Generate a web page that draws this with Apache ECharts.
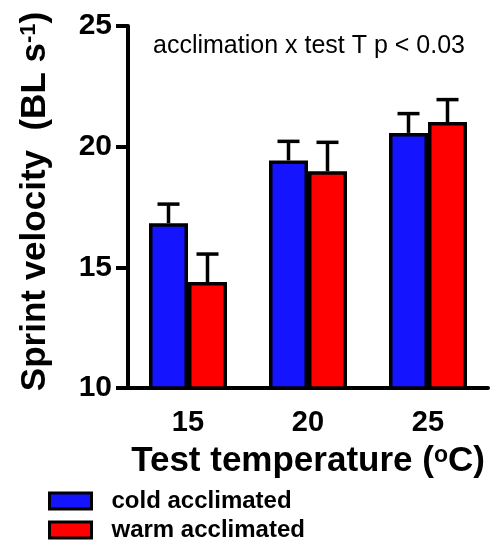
<!DOCTYPE html>
<html>
<head>
<meta charset="utf-8">
<script src="https://cdn.jsdelivr.net/npm/echarts@6/dist/echarts.min.js"></script>
<style>
  html, body { margin: 0; padding: 0; background: #fff; }
  #main { width: 490px; height: 548px; }
</style>
</head>
<body>
<div id="main"></div>
<script>
var chartDom = document.getElementById('main');
var myChart = echarts.init(chartDom);
var option;

// test temperatures
let categories = ['15', '20', '25'];
// mean sprint velocity (BL/s) and upper error (SEM)
let coldMean = [16.83, 19.43, 20.57];
let coldErr = [0.79, 0.79, 0.80];
let warmMean = [14.39, 18.98, 21.02];
let warmErr = [1.16, 1.20, 0.93];
let yTicks = [10, 15, 20, 25];

let font = 'Liberation Sans, Arial, sans-serif';
let barW = 39;

function errData(means, errs) {
  return means.map(function (m, i) { return [i, m, errs[i]]; });
}

function errRender(offset) {
  return function (params, api) {
    let i = api.value(0);
    let m = api.value(1);
    let e = api.value(2);
    let base = api.coord([i, m]);
    let top = api.coord([i, m + e]);
    let x = base[0] + offset;
    let st = { stroke: '#000', lineWidth: 3.5 };
    return {
      type: 'group',
      children: [
        { type: 'line', shape: { x1: x, y1: base[1], x2: x, y2: top[1] }, style: st },
        { type: 'line', shape: { x1: x - 11, y1: top[1], x2: x + 11, y2: top[1] }, style: st }
      ]
    };
  };
}

function legendFor(name, top) {
  return {
    orient: 'vertical',
    left: 43,
    top: top,
    itemWidth: 42,
    itemHeight: 16,
    icon: 'rect',
    itemStyle: { borderColor: '#000', borderWidth: 3 },
    textStyle: { fontFamily: font, fontSize: 24, fontWeight: 'bold', color: '#000', padding: [0, 0, 0, 15] },
    data: [name]
  };
}

option = {
  animation: false,
  textStyle: { fontFamily: font },
  grid: { left: 128, right: 2, top: 26, bottom: 160 },
  graphic: [
    {
      type: 'text',
      left: 153,
      top: 34,
      style: { text: 'acclimation x test T p < 0.03', font: '25px ' + font, fill: '#000' }
    }
  ],
  legend: [
    legendFor('cold acclimated', 484),
    legendFor('warm acclimated', 513)
  ],
  xAxis: {
    type: 'category',
    data: categories,
    name: '{a|Test temperature (}{b|o}{a|C)}',
    nameLocation: 'middle',
    nameGap: 56,
    nameTextStyle: {
      rich: {
        a: { fontFamily: font, fontSize: 35, fontWeight: 'bold', color: '#000' },
        b: { fontFamily: font, fontSize: 23, fontWeight: 'bold', color: '#000', verticalAlign: 'top' }
      }
    },
    axisLine: { lineStyle: { color: '#000', width: 4 } },
    axisTick: { alignWithLabel: true, length: 12, lineStyle: { color: '#000', width: 4 } },
    axisLabel: { fontFamily: font, fontSize: 29, fontWeight: 'bold', color: '#000', margin: 20 }
  },
  yAxis: {
    type: 'value',
    min: yTicks[0],
    max: yTicks[yTicks.length - 1],
    interval: 5,
    name: '{a|Sprint velocity  (BL s}{b|-1}{a|)}',
    nameLocation: 'middle',
    nameRotate: 90,
    nameGap: 75,
    nameTextStyle: {
      padding: [0, 0, 0, 11],
      rich: {
        a: { fontFamily: font, fontSize: 35, fontWeight: 'bold', color: '#000' },
        b: { fontFamily: font, fontSize: 22, fontWeight: 'bold', color: '#000', verticalAlign: 'top' }
      }
    },
    splitLine: { show: false },
    axisLine: { show: true, lineStyle: { color: '#000', width: 4 } },
    axisTick: { show: true, length: 12, lineStyle: { color: '#000', width: 4 } },
    axisLabel: { fontFamily: font, fontSize: 30, fontWeight: 'bold', color: '#000', margin: 16 }
  },
  series: [
    {
      name: 'cold acclimated',
      type: 'bar',
      data: coldMean,
      barWidth: barW,
      barGap: '0%',
      itemStyle: { color: '#1414ff', borderColor: '#000', borderWidth: 3.5 }
    },
    {
      name: 'warm acclimated',
      type: 'bar',
      data: warmMean,
      barWidth: barW,
      barGap: '0%',
      itemStyle: { color: '#ff0000', borderColor: '#000', borderWidth: 3.5 }
    },
    {
      type: 'custom',
      renderItem: errRender(-barW / 2),
      data: errData(coldMean, coldErr),
      z: 3
    },
    {
      type: 'custom',
      renderItem: errRender(barW / 2),
      data: errData(warmMean, warmErr),
      z: 3
    }
  ]
};

option && myChart.setOption(option);
</script>
</body>
</html>
